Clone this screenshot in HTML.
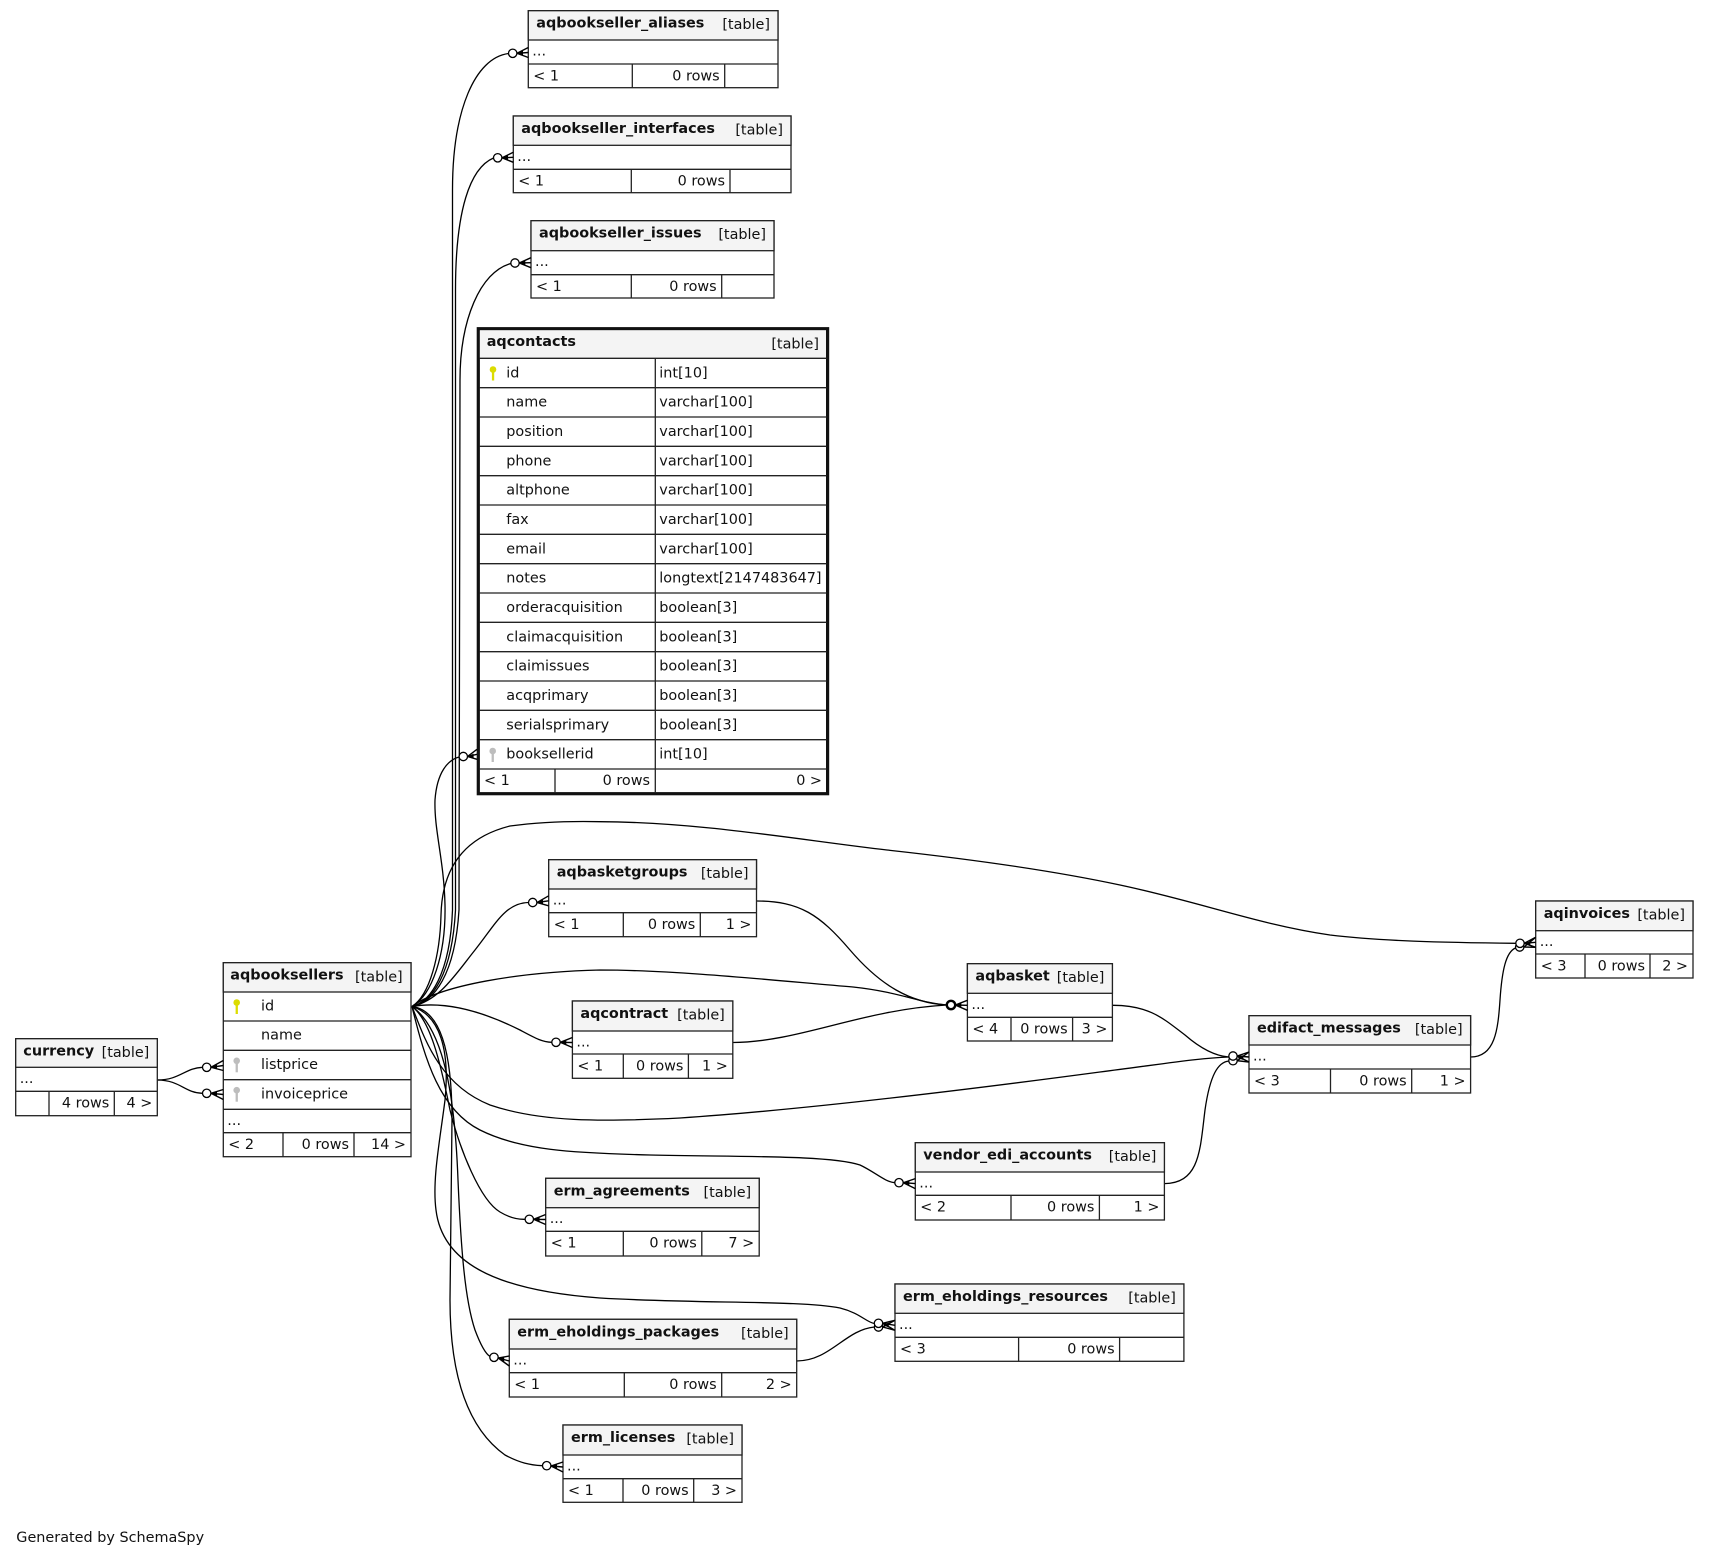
<!DOCTYPE html>
<html><head><meta charset="utf-8"><style>
html,body{margin:0;padding:0;background:#fff}
svg{display:block}
text{font-family:"DejaVu Sans","Liberation Sans",sans-serif;font-size:14.4px;fill:#111}
.b{font-weight:bold}
.e{text-anchor:end}
.t{fill:#fff;stroke:#222;stroke-width:1.3}
.h{fill:#f4f4f4;stroke:#222;stroke-width:1.3}
.l{stroke:#222;stroke-width:1.3}
.ed{fill:none;stroke:#000;stroke-width:1.3}
.c{fill:#fff;stroke:#000;stroke-width:1.3}
.cr{fill:none;stroke:#000;stroke-width:1.4}
.cf{fill:#000}
.ky{fill:#dcdc00}
.kg{fill:#bdbdbd}
</style></head><body>
<svg width="1709" height="1557" viewBox="0 0 1709 1557" xmlns="http://www.w3.org/2000/svg">
<rect width="1709" height="1557" fill="#fff"/>

<!-- edges -->
<g class="ed">
<path d="M412,1006.5 C430,1002 450,975 452.5,910 L452.5,190 C452.5,110 475,58 508.5,53.5"/>
<path d="M412,1006.5 C432,1002 452,975 455.5,910 L455.5,290 C455.5,210 470,168 493.5,158"/>
<path d="M412,1006.5 C434,1002 455,975 459,910 L460,380 C460,320 480,272 510.8,263.5"/>
<path d="M412,1006.5 C432,995 446,955 445,905 C444,860 434,830 435,800 C437,772 448,760 459,757"/>
<path d="M412,1006.5 C430,995 440,955 441,915 C442,870 462,838 510,826 C540,822 570,821 600,821.7 C700,822 800,840 887,850 C960,858 1050,870 1120,885 C1200,902 1260,925 1330,935 C1380,941 1440,942.5 1515.7,943.3"/>
<path d="M412,1006.5 C440,1000 455,975 475,950 C495,925 505,903 528.5,902.5"/>
<path d="M412,1006.5 C440,985 520,972 600,970 C680,970 790,982 853,987 C900,992 920,1003 946.8,1005"/>
<path d="M756.5,901 C800,901 820,915 850,950 C880,985 910,1003 946.8,1005"/>
<path d="M732.8,1042.5 C800,1042 860,1010 946.8,1005"/>
<path d="M412,1006.5 C450,1000 490,1015 520,1030 C535,1038 542,1042 551.8,1042.3"/>
<path d="M412,1006.5 C425,1040 440,1085 490,1105 C540,1122 600,1122 680,1118 C800,1110 950,1092 1100,1072 C1170,1063 1200,1058 1228.8,1057"/>
<path d="M1112.4,1005.3 C1150,1005 1165,1020 1185,1035 C1200,1048 1215,1056 1228.8,1057"/>
<path d="M1164.4,1183.6 C1200,1183 1200,1150 1205,1110 C1210,1075 1218,1062 1229,1061"/>
<path d="M412,1006.5 C425,1060 440,1110 480,1130 C520,1150 570,1153 650,1155 C740,1157 830,1155 860,1165 C875,1172 885,1182 894.8,1182.7"/>
<path d="M412,1006.5 C430,1020 440,1060 450,1110 C460,1150 480,1200 500,1212 C510,1218 518,1219.5 525,1219.3"/>
<path d="M412,1006.5 C440,1015 450,1050 445,1100 C440,1140 432,1180 436,1210 C442,1260 490,1290 600,1298 C700,1304 800,1300 840,1308 C860,1313 866,1322 874.3,1323.5"/>
<path d="M796.7,1361 C830,1361 845,1330 874.3,1327"/>
<path d="M412,1006.5 C445,1030 455,1100 458,1180 C461,1250 465,1300 475,1330 C481,1346 486,1354 490,1356.5"/>
<path d="M412,1006.5 C440,1010 452,1050 452,1120 L450,1300 C450,1380 470,1430 505,1455 C520,1463 530,1465 542.4,1465.7"/>
<path d="M157.3,1080 C180,1080 185,1068 202.4,1067.3"/>
<path d="M157.3,1080 C180,1080 185,1093 202.4,1093.3"/>
<path d="M1470.6,1057 C1495,1057 1498,1030 1500,1000 C1502,970 1506,952 1515.5,948"/>
</g>

<!-- aqbookseller_aliases -->
<g>
<rect class="t" x="528.3" y="10.7" width="249.7" height="77"/>
<rect class="h" x="528.3" y="10.7" width="249.7" height="29.3"/>
<line class="l" x1="528.3" y1="64" x2="778" y2="64"/>
<line class="l" x1="632.3" y1="64" x2="632.3" y2="87.7"/>
<line class="l" x1="724.7" y1="64" x2="724.7" y2="87.7"/>
<text class="b" x="536.3" y="27.7">aqbookseller_aliases</text>
<text class="e" x="770" y="29.2">[table]</text>
<text x="532.3" y="55.5">...</text>
<text x="533.3" y="80.3">&lt; 1</text>
<text class="e" x="719.7" y="80.3">0 rows</text>
</g>

<!-- aqbookseller_interfaces -->
<g>
<rect class="t" x="513.3" y="116" width="277.7" height="76.7"/>
<rect class="h" x="513.3" y="116" width="277.7" height="29.3"/>
<line class="l" x1="513.3" y1="169.3" x2="791" y2="169.3"/>
<line class="l" x1="631.3" y1="169.3" x2="631.3" y2="192.7"/>
<line class="l" x1="730" y1="169.3" x2="730" y2="192.7"/>
<text class="b" x="521.3" y="133">aqbookseller_interfaces</text>
<text class="e" x="783" y="134.5">[table]</text>
<text x="517.3" y="160.8">...</text>
<text x="518.3" y="185.6">&lt; 1</text>
<text class="e" x="725" y="185.6">0 rows</text>
</g>

<!-- aqbookseller_issues -->
<g>
<rect class="t" x="531" y="220.7" width="243" height="77.3"/>
<rect class="h" x="531" y="220.7" width="243" height="30"/>
<line class="l" x1="531" y1="274.7" x2="774" y2="274.7"/>
<line class="l" x1="631.3" y1="274.7" x2="631.3" y2="298"/>
<line class="l" x1="721.7" y1="274.7" x2="721.7" y2="298"/>
<text class="b" x="539" y="237.7">aqbookseller_issues</text>
<text class="e" x="766" y="239.2">[table]</text>
<text x="535" y="266.2">...</text>
<text x="536" y="291">&lt; 1</text>
<text class="e" x="716.7" y="291">0 rows</text>
</g>

<!-- aqcontacts -->
<g>
<rect x="478.3" y="328.7" width="349.3" height="465" fill="#fff" stroke="#111" stroke-width="3.2"/>
<rect x="479.9" y="330.3" width="346.1" height="28" fill="#f4f4f4"/>
<g class="l">
<line x1="479.3" y1="358.3" x2="826.7" y2="358.3"/>
<line x1="479.3" y1="387.7" x2="826.7" y2="387.7"/>
<line x1="479.3" y1="417" x2="826.7" y2="417"/>
<line x1="479.3" y1="446.3" x2="826.7" y2="446.3"/>
<line x1="479.3" y1="475.7" x2="826.7" y2="475.7"/>
<line x1="479.3" y1="505" x2="826.7" y2="505"/>
<line x1="479.3" y1="534.3" x2="826.7" y2="534.3"/>
<line x1="479.3" y1="563.7" x2="826.7" y2="563.7"/>
<line x1="479.3" y1="593" x2="826.7" y2="593"/>
<line x1="479.3" y1="622.3" x2="826.7" y2="622.3"/>
<line x1="479.3" y1="651.7" x2="826.7" y2="651.7"/>
<line x1="479.3" y1="681" x2="826.7" y2="681"/>
<line x1="479.3" y1="710.3" x2="826.7" y2="710.3"/>
<line x1="479.3" y1="739.7" x2="826.7" y2="739.7"/>
<line x1="479.3" y1="769" x2="826.7" y2="769"/>
<line x1="655.3" y1="358.3" x2="655.3" y2="793"/>
<line x1="555" y1="769" x2="555" y2="793"/>
</g>
<text class="b" x="486.7" y="346">aqcontacts</text>
<text class="e" x="819" y="348.3">[table]</text>
<circle class="ky" cx="493" cy="369.5" r="3.3"/><rect class="ky" x="491.9" y="369.5" width="2.3" height="11"/>
<text x="506.3" y="377.3">id</text><text x="659.3" y="377.3">int[10]</text>
<text x="506.3" y="406.7">name</text><text x="659.3" y="406.7">varchar[100]</text>
<text x="506.3" y="436">position</text><text x="659.3" y="436">varchar[100]</text>
<text x="506.3" y="465.3">phone</text><text x="659.3" y="465.3">varchar[100]</text>
<text x="506.3" y="494.7">altphone</text><text x="659.3" y="494.7">varchar[100]</text>
<text x="506.3" y="524">fax</text><text x="659.3" y="524">varchar[100]</text>
<text x="506.3" y="553.3">email</text><text x="659.3" y="553.3">varchar[100]</text>
<text x="506.3" y="582.7">notes</text><text x="659.3" y="582.7">longtext[2147483647]</text>
<text x="506.3" y="612">orderacquisition</text><text x="659.3" y="612">boolean[3]</text>
<text x="506.3" y="641.3">claimacquisition</text><text x="659.3" y="641.3">boolean[3]</text>
<text x="506.3" y="670.7">claimissues</text><text x="659.3" y="670.7">boolean[3]</text>
<text x="506.3" y="700">acqprimary</text><text x="659.3" y="700">boolean[3]</text>
<text x="506.3" y="729.3">serialsprimary</text><text x="659.3" y="729.3">boolean[3]</text>
<circle class="kg" cx="492.7" cy="751" r="3.3"/><rect class="kg" x="491.6" y="751" width="2.3" height="11"/>
<text x="506.3" y="758.7">booksellerid</text><text x="659.3" y="758.7">int[10]</text>
<text x="484" y="785">&lt; 1</text>
<text class="e" x="650" y="785">0 rows</text>
<text class="e" x="822" y="785">0 &gt;</text>
</g>

<!-- aqbooksellers -->
<g>
<rect class="t" x="223.3" y="962.7" width="187.7" height="194"/>
<rect class="h" x="223.3" y="962.7" width="187.7" height="29.3"/>
<g class="l">
<line x1="223.3" y1="1021" x2="411" y2="1021"/>
<line x1="223.3" y1="1050.3" x2="411" y2="1050.3"/>
<line x1="223.3" y1="1079.7" x2="411" y2="1079.7"/>
<line x1="223.3" y1="1109.3" x2="411" y2="1109.3"/>
<line x1="223.3" y1="1132.7" x2="411" y2="1132.7"/>
<line x1="283" y1="1132.7" x2="283" y2="1156.7"/>
<line x1="354" y1="1132.7" x2="354" y2="1156.7"/>
</g>
<text class="b" x="230.3" y="979.7">aqbooksellers</text>
<text class="e" x="402.7" y="981.5">[table]</text>
<circle class="ky" cx="236.7" cy="1002.5" r="3.3"/><rect class="ky" x="235.6" y="1002.5" width="2.3" height="11.5"/>
<text x="261" y="1010.3">id</text>
<text x="261" y="1039.5">name</text>
<circle class="kg" cx="236.7" cy="1060.8" r="3.3"/><rect class="kg" x="235.6" y="1060.8" width="2.3" height="11.5"/>
<text x="261" y="1068.9">listprice</text>
<circle class="kg" cx="236.7" cy="1090.2" r="3.3"/><rect class="kg" x="235.6" y="1090.2" width="2.3" height="11.5"/>
<text x="261" y="1098.4">invoiceprice</text>
<text x="227.3" y="1124.8">...</text>
<text x="228.3" y="1149">&lt; 2</text>
<text class="e" x="349" y="1149">0 rows</text>
<text class="e" x="406" y="1149">14 &gt;</text>
</g>

<!-- currency -->
<g>
<rect class="t" x="15.7" y="1038.7" width="141.6" height="77"/>
<rect class="h" x="15.7" y="1038.7" width="141.6" height="28.6"/>
<line class="l" x1="15.7" y1="1091.3" x2="157.3" y2="1091.3"/>
<line class="l" x1="49" y1="1091.3" x2="49" y2="1115.7"/>
<line class="l" x1="114.3" y1="1091.3" x2="114.3" y2="1115.7"/>
<text class="b" x="23.3" y="1055.7">currency</text>
<text class="e" x="149.3" y="1057.2">[table]</text>
<text x="19.7" y="1082.8">...</text>
<text class="e" x="109.3" y="1107.6">4 rows</text>
<text class="e" x="152.3" y="1107.6">4 &gt;</text>
</g>

<!-- aqbasketgroups -->
<g>
<rect class="t" x="548.7" y="859.7" width="207.8" height="77"/>
<rect class="h" x="548.7" y="859.7" width="207.8" height="29.3"/>
<line class="l" x1="548.7" y1="912.7" x2="756.5" y2="912.7"/>
<line class="l" x1="623.3" y1="912.7" x2="623.3" y2="936.7"/>
<line class="l" x1="700.3" y1="912.7" x2="700.3" y2="936.7"/>
<text class="b" x="556.7" y="876.7">aqbasketgroups</text>
<text class="e" x="748.5" y="878.2">[table]</text>
<text x="552.7" y="904.5">...</text>
<text x="553.7" y="929">&lt; 1</text>
<text class="e" x="695.3" y="929">0 rows</text>
<text class="e" x="751.5" y="929">1 &gt;</text>
</g>

<!-- aqcontract -->
<g>
<rect class="t" x="572.4" y="1001" width="160.4" height="77.3"/>
<rect class="h" x="572.4" y="1001" width="160.4" height="30"/>
<line class="l" x1="572.4" y1="1054" x2="732.8" y2="1054"/>
<line class="l" x1="623.3" y1="1054" x2="623.3" y2="1078.3"/>
<line class="l" x1="688.4" y1="1054" x2="688.4" y2="1078.3"/>
<text class="b" x="580.4" y="1018">aqcontract</text>
<text class="e" x="724.8" y="1019.5">[table]</text>
<text x="576.4" y="1046.5">...</text>
<text x="577.4" y="1070.3">&lt; 1</text>
<text class="e" x="683.4" y="1070.3">0 rows</text>
<text class="e" x="727.8" y="1070.3">1 &gt;</text>
</g>

<!-- aqbasket -->
<g>
<rect class="t" x="967.4" y="963.7" width="145" height="77.3"/>
<rect class="h" x="967.4" y="963.7" width="145" height="29.6"/>
<line class="l" x1="967.4" y1="1017.3" x2="1112.4" y2="1017.3"/>
<line class="l" x1="1011" y1="1017.3" x2="1011" y2="1041"/>
<line class="l" x1="1072.6" y1="1017.3" x2="1072.6" y2="1041"/>
<text class="b" x="975.4" y="980.7">aqbasket</text>
<text class="e" x="1104.4" y="982.2">[table]</text>
<text x="971.4" y="1008.8">...</text>
<text x="972.4" y="1033.6">&lt; 4</text>
<text class="e" x="1067.6" y="1033.6">0 rows</text>
<text class="e" x="1107.4" y="1033.6">3 &gt;</text>
</g>

<!-- aqinvoices -->
<g>
<rect class="t" x="1535.7" y="901" width="157.3" height="77"/>
<rect class="h" x="1535.7" y="901" width="157.3" height="29.7"/>
<line class="l" x1="1535.7" y1="954" x2="1693" y2="954"/>
<line class="l" x1="1585" y1="954" x2="1585" y2="978"/>
<line class="l" x1="1650" y1="954" x2="1650" y2="978"/>
<text class="b" x="1543.7" y="918">aqinvoices</text>
<text class="e" x="1685" y="919.5">[table]</text>
<text x="1539.7" y="946.2">...</text>
<text x="1540.7" y="970.3">&lt; 3</text>
<text class="e" x="1645" y="970.3">0 rows</text>
<text class="e" x="1688" y="970.3">2 &gt;</text>
</g>

<!-- edifact_messages -->
<g>
<rect class="t" x="1249" y="1015.7" width="221.6" height="77.3"/>
<rect class="h" x="1249" y="1015.7" width="221.6" height="29.3"/>
<line class="l" x1="1249" y1="1069" x2="1470.6" y2="1069"/>
<line class="l" x1="1330.5" y1="1069" x2="1330.5" y2="1093"/>
<line class="l" x1="1411.7" y1="1069" x2="1411.7" y2="1093"/>
<text class="b" x="1257" y="1032.7">edifact_messages</text>
<text class="e" x="1462.6" y="1034.2">[table]</text>
<text x="1253" y="1060.5">...</text>
<text x="1254" y="1085.3">&lt; 3</text>
<text class="e" x="1406.7" y="1085.3">0 rows</text>
<text class="e" x="1465.6" y="1085.3">1 &gt;</text>
</g>

<!-- vendor_edi_accounts -->
<g>
<rect class="t" x="915.3" y="1142.7" width="249.1" height="77.3"/>
<rect class="h" x="915.3" y="1142.7" width="249.1" height="29.3"/>
<line class="l" x1="915.3" y1="1195.3" x2="1164.4" y2="1195.3"/>
<line class="l" x1="1011" y1="1195.3" x2="1011" y2="1220"/>
<line class="l" x1="1099.4" y1="1195.3" x2="1099.4" y2="1220"/>
<text class="b" x="923.3" y="1159.7">vendor_edi_accounts</text>
<text class="e" x="1156.4" y="1161.2">[table]</text>
<text x="919.3" y="1187.5">...</text>
<text x="920.3" y="1211.6">&lt; 2</text>
<text class="e" x="1094.4" y="1211.6">0 rows</text>
<text class="e" x="1159.4" y="1211.6">1 &gt;</text>
</g>

<!-- erm_agreements -->
<g>
<rect class="t" x="545.7" y="1178.3" width="213.5" height="77.7"/>
<rect class="h" x="545.7" y="1178.3" width="213.5" height="29.4"/>
<line class="l" x1="545.7" y1="1231.3" x2="759.2" y2="1231.3"/>
<line class="l" x1="623.3" y1="1231.3" x2="623.3" y2="1256"/>
<line class="l" x1="701.8" y1="1231.3" x2="701.8" y2="1256"/>
<text class="b" x="553.7" y="1195.3">erm_agreements</text>
<text class="e" x="751.2" y="1196.8">[table]</text>
<text x="549.7" y="1223.2">...</text>
<text x="550.7" y="1247.6">&lt; 1</text>
<text class="e" x="696.8" y="1247.6">0 rows</text>
<text class="e" x="754.2" y="1247.6">7 &gt;</text>
</g>

<!-- erm_eholdings_resources -->
<g>
<rect class="t" x="895" y="1284" width="288.9" height="77.3"/>
<rect class="h" x="895" y="1284" width="288.9" height="29.3"/>
<line class="l" x1="895" y1="1337.3" x2="1183.9" y2="1337.3"/>
<line class="l" x1="1018.6" y1="1337.3" x2="1018.6" y2="1361.3"/>
<line class="l" x1="1119.6" y1="1337.3" x2="1119.6" y2="1361.3"/>
<text class="b" x="903" y="1301">erm_eholdings_resources</text>
<text class="e" x="1175.9" y="1302.5">[table]</text>
<text x="899" y="1328.8">...</text>
<text x="900" y="1353.6">&lt; 3</text>
<text class="e" x="1114.6" y="1353.6">0 rows</text>
</g>

<!-- erm_eholdings_packages -->
<g>
<rect class="t" x="509.3" y="1319.3" width="287.4" height="77.7"/>
<rect class="h" x="509.3" y="1319.3" width="287.4" height="29.7"/>
<line class="l" x1="509.3" y1="1372.7" x2="796.7" y2="1372.7"/>
<line class="l" x1="624.3" y1="1372.7" x2="624.3" y2="1397"/>
<line class="l" x1="721.7" y1="1372.7" x2="721.7" y2="1397"/>
<text class="b" x="517.3" y="1336.3">erm_eholdings_packages</text>
<text class="e" x="788.7" y="1337.8">[table]</text>
<text x="513.3" y="1364.5">...</text>
<text x="514.3" y="1389">&lt; 1</text>
<text class="e" x="716.7" y="1389">0 rows</text>
<text class="e" x="791.7" y="1389">2 &gt;</text>
</g>

<!-- erm_licenses -->
<g>
<rect class="t" x="563" y="1425" width="179" height="77.3"/>
<rect class="h" x="563" y="1425" width="179" height="30"/>
<line class="l" x1="563" y1="1478.7" x2="742" y2="1478.7"/>
<line class="l" x1="623" y1="1478.7" x2="623" y2="1502.3"/>
<line class="l" x1="693.7" y1="1478.7" x2="693.7" y2="1502.3"/>
<text class="b" x="571" y="1442">erm_licenses</text>
<text class="e" x="734" y="1443.5">[table]</text>
<text x="567" y="1470.5">...</text>
<text x="568" y="1495">&lt; 1</text>
<text class="e" x="688.7" y="1495">0 rows</text>
<text class="e" x="737" y="1495">3 &gt;</text>
</g>

<!-- crow's feet -->
<g>
<path class="cr" d="M528.3,47.5 L517,53.3 L528.3,57.5 M517,53.3 L528.3,52.5"/><polygon class="cf" points="517,53.3 523,50.8 523,55.6"/><circle class="c" cx="512.7" cy="53.3" r="4.2"/>
<path class="cr" d="M513.3,152.3 L502,157.8 L513.3,162.3 M502,157.8 L513.3,157.3"/><polygon class="cf" points="502,157.8 508,155.3 508,160.1"/><circle class="c" cx="497.7" cy="157.8" r="4.2"/>
<path class="cr" d="M531,257.7 L519.3,263 L531,267.7 M519.3,263 L531,262.7"/><polygon class="cf" points="519.3,263 525.3,260.5 525.3,265.3"/><circle class="c" cx="515" cy="263" r="4.2"/>
<path class="cr" d="M477,749.3 L467.6,756.5 L477,759.3 M467.6,756.5 L477,754.3"/><polygon class="cf" points="467.6,756.5 473.6,753.6 473.6,758.2"/><circle class="c" cx="463.3" cy="756.5" r="4.2"/>
<path class="cr" d="M548.7,895.8 L537,902.5 L548.7,905.8 M537,902.5 L548.7,900.8"/><polygon class="cf" points="537,902.5 543,899.7 543,904.3"/><circle class="c" cx="532.7" cy="902.5" r="4.2"/>
<path class="cr" d="M967.4,1000.3 L955.3,1005 L967.4,1010.3 M955.3,1005 L967.4,1005.3"/><polygon class="cf" points="955.3,1005 961.3,1002.6 961.3,1007.6"/><circle class="c" cx="951" cy="1005" r="4.2" style="stroke-width:2.4"/>
<path class="cr" d="M572.4,1037.5 L560.3,1042.3 L572.4,1047.5 M560.3,1042.3 L572.4,1042.5"/><polygon class="cf" points="560.3,1042.3 566.3,1039.9 566.3,1044.9"/><circle class="c" cx="556" cy="1042.3" r="4.2"/>
<path class="cr" d="M1535.7,937.3 L1524.3,943.3 L1535.7,947.3 M1524.3,943.3 L1535.7,942.3 M1535.7,937.3 L1524,947 L1535.7,947.3"/><polygon class="cf" points="1524.3,944 1530.3,941 1530.3,946"/><circle class="c" cx="1519.7" cy="947" r="4.2"/><circle class="c" cx="1520" cy="943.3" r="4.2"/>
<path class="cr" d="M1249,1052 L1237.3,1056 L1249,1062 M1237.3,1056 L1249,1057 M1249,1052 L1237.3,1060.7 L1249,1062"/><polygon class="cf" points="1237.3,1058 1243.3,1055 1243.3,1060"/><circle class="c" cx="1233" cy="1060.7" r="4.2"/><circle class="c" cx="1233" cy="1056" r="4.2"/>
<path class="cr" d="M915.3,1178.6 L903.3,1182.7 L915.3,1188.6 M903.3,1182.7 L915.3,1183.6"/><polygon class="cf" points="903.3,1182.7 909.3,1180.5 909.3,1185.5"/><circle class="c" cx="899" cy="1182.7" r="4.2"/>
<path class="cr" d="M545.7,1214.5 L533.6,1219.3 L545.7,1224.5 M533.6,1219.3 L545.7,1219.5"/><polygon class="cf" points="533.6,1219.3 539.6,1216.9 539.6,1221.9"/><circle class="c" cx="529.3" cy="1219.3" r="4.2"/>
<path class="cr" d="M895,1320.3 L882.8,1323.3 L895,1330.3 M882.8,1323.3 L895,1325.3 M895,1320.3 L882.8,1327 L895,1330.3"/><polygon class="cf" points="882.8,1325 888.8,1322.5 888.8,1327.5"/><circle class="c" cx="878.5" cy="1327" r="4.2"/><circle class="c" cx="878.5" cy="1323.3" r="4.2"/>
<path class="cr" d="M509.3,1356 L498.2,1358 L509.3,1366 M498.2,1358 L509.3,1361"/><polygon class="cf" points="498.2,1358 504.2,1357 504.2,1362"/><circle class="c" cx="494" cy="1357.3" r="4.2"/>
<path class="cr" d="M563,1462 L551,1466 L563,1472 M551,1466 L563,1467"/><polygon class="cf" points="551,1466 557,1464 557,1469"/><circle class="c" cx="546.7" cy="1465.7" r="4.2"/>
<path class="cr" d="M223.3,1060.5 L211,1067.3 L223.3,1070.5 M211,1067.3 L223.3,1065.5"/><polygon class="cf" points="211,1067.3 217,1064.6 217,1069.4"/><circle class="c" cx="206.7" cy="1067.3" r="4.2"/>
<path class="cr" d="M223.3,1089.5 L211,1093.3 L223.3,1099.5 M211,1093.3 L223.3,1094.5"/><polygon class="cf" points="211,1093.3 217,1091 217,1096"/><circle class="c" cx="206.7" cy="1093.3" r="4.2"/>
</g>

<text x="16.3" y="1542">Generated by SchemaSpy</text>
</svg>
</body></html>
